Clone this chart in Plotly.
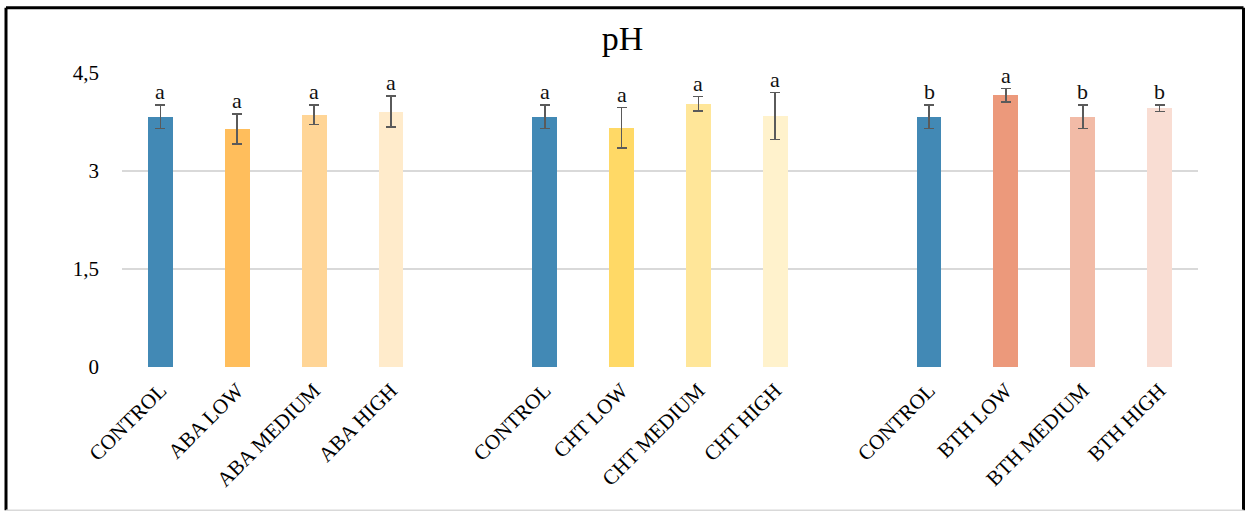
import plotly.graph_objects as go

# pH of each treatment, three experiments of four treatments each
groups = ["ABA", "CHT", "BTH"]
labels = [
    ["CONTROL", "ABA LOW", "ABA MEDIUM", "ABA HIGH"],
    ["CONTROL", "CHT LOW", "CHT MEDIUM", "CHT HIGH"],
    ["CONTROL", "BTH LOW", "BTH MEDIUM", "BTH HIGH"],
]
ph_mean = [
    [3.83, 3.64, 3.86, 3.91],
    [3.83, 3.66, 4.03, 3.84],
    [3.83, 4.16, 3.83, 3.96],
]
ph_err = [
    [0.18, 0.23, 0.15, 0.24],
    [0.18, 0.31, 0.11, 0.36],
    [0.18, 0.10, 0.18, 0.05],
]
letters = [
    ["a", "a", "a", "a"],
    ["a", "a", "a", "a"],
    ["b", "a", "b", "b"],
]
colors = [
    ["#4289B5", "#FFBE5C", "#FFD596", "#FFEBCB"],
    ["#4289B5", "#FFD966", "#FFE699", "#FFF2CC"],
    ["#4289B5", "#EC997B", "#F2BBA7", "#F9DDD3"],
]
y_ticks = [0, 1.5, 3, 4.5]
y_tick_text = ["0", "1,5", "3", "4,5"]

FONT = "Liberation Serif, Times New Roman, serif"

fig = go.Figure()
tickvals, ticktext = [], []
for g in range(len(groups)):
    xs = [g * 5 + i for i in range(len(labels[g]))]
    tickvals += xs
    ticktext += labels[g]
    fig.add_trace(go.Bar(
        x=xs, y=ph_mean[g], width=0.325,
        marker=dict(color=colors[g], line=dict(width=0)),
        error_y=dict(type="data", array=ph_err[g], visible=True,
                     color="#5A5A5A", thickness=1.6, width=5),
        showlegend=False, name=groups[g],
    ))
    for x, m, e, t in zip(xs, ph_mean[g], ph_err[g], letters[g]):
        fig.add_annotation(x=x, y=m + e, text=t, showarrow=False,
                           yanchor="bottom", yshift=-1,
                           font=dict(family=FONT, size=22, color="#111111"))

# chart frame
fig.add_shape(type="line", xref="paper", yref="paper",
              x0=-0.1078, x1=1.0423, y0=1.222, y1=1.222,
              line=dict(color="black", width=3))
fig.add_shape(type="line", xref="paper", yref="paper",
              x0=-0.1078, x1=-0.1078, y0=1.222, y1=-0.487,
              line=dict(color="black", width=3))
fig.add_shape(type="line", xref="paper", yref="paper",
              x0=1.0423, x1=1.0423, y0=1.222, y1=-0.487,
              line=dict(color="black", width=3))
fig.add_shape(type="line", xref="paper", yref="paper",
              x0=-0.1078, x1=1.0423, y0=-0.487, y1=-0.487,
              line=dict(color="#D9D9D9", width=1.5))

fig.update_layout(
    width=1245, height=512,
    margin=dict(l=122, r=47, t=73, b=145),
    paper_bgcolor="white", plot_bgcolor="white",
    title=dict(text="pH", x=0.5, xanchor="center", y=0.925, yanchor="middle",
               font=dict(family=FONT, size=34, color="black")),
    bargap=0,
    xaxis=dict(range=[-0.5, 13.5], tickmode="array", tickvals=tickvals,
               ticktext=ticktext, tickangle=-45, showgrid=False,
               zeroline=False, showline=False, ticks="",
               ticklabelstandoff=6,
               tickfont=dict(family=FONT, size=21, color="black")),
    yaxis=dict(range=[0, 4.5], tickmode="array", tickvals=y_ticks,
               ticktext=y_tick_text, showgrid=True, gridcolor="#D9D9D9",
               gridwidth=1.5, zeroline=False, showline=False, ticks="",
               ticklabelstandoff=22,
               tickfont=dict(family=FONT, size=21, color="black")),
)
fig.update_traces(cliponaxis=False)

fig.write_html("out.html")
